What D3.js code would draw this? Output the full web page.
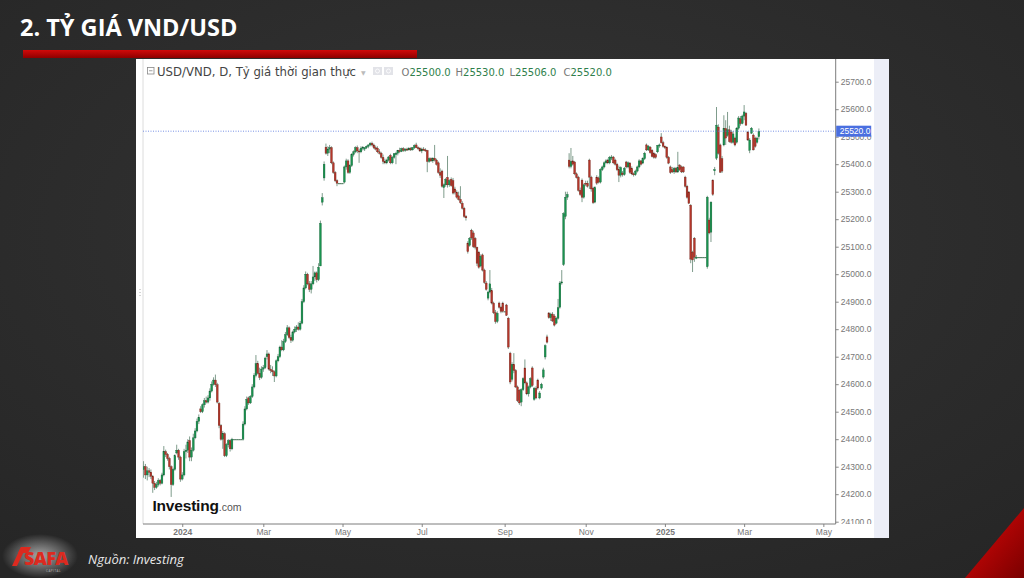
<!DOCTYPE html>
<html>
<head>
<meta charset="utf-8">
<script src="https://cdn.jsdelivr.net/npm/d3@7/dist/d3.min.js"></script>
<style>
  body { margin: 0; background: #2d2d2d; overflow: hidden; }
  svg { display: block; }
  .axis text { font-family: "Liberation Sans", Arial, sans-serif; font-size: 8.5px; fill: #777; }
  .axis line { stroke: #888; }
</style>
</head>
<body>
<svg id="chart" width="1024" height="578"></svg>
<script>
// daily candles [open, high, low, close], one row per weekday from 1 Dec 2023
const dec23 = [
  [24290,24320,24260,24300],[24300,24310,24255,24270],[24270,24300,24250,24285],[24285,24295,24262,24280],
  [24280,24290,24255,24265],[24265,24270,24205,24240],[24240,24248,24215,24225],[24225,24245,24220,24235],
  [24235,24258,24228,24250],[24250,24255,24232,24240],[24240,24278,24236,24270],[24270,24375,24265,24355],
  [24355,24362,24335,24345],[24345,24350,24322,24330],[24330,24336,24290,24300],[24300,24305,24190,24235],
  [24235,24296,24230,24290],[24290,24345,24285,24340],[24350,24380,24345,24360],[24360,24365,24325,24335],
  [24335,24340,24245,24255]
];
const jan24 = [
  [24255,24280,24250,24270],[24270,24365,24265,24355],[24355,24380,24330,24360],[24360,24400,24350,24390],
  [24395,24410,24320,24335],[24335,24370,24320,24360],[24360,24420,24355,24405],[24405,24440,24400,24430],
  [24430,24475,24425,24465],[24465,24490,24455,24480],[24510,24520,24495,24500],[24500,24530,24495,24525],
  [24525,24550,24515,24540],[24540,24555,24530,24535],[24535,24560,24530,24550],[24550,24585,24540,24575],
  [24575,24610,24570,24600],[24600,24625,24595,24615],[24615,24635,24590,24598],[24598,24605,24530,24535],
  [24530,24535,24440,24450],[24450,24455,24395,24400],[24400,24430,24365,24420]
];
const feb24 = [
  [24420,24425,24335,24340],[24340,24385,24335,24380],[24380,24400,24370,24395],[24395,24400,24355,24365],
  [24365,24405,24360,24400],[24400,24400,24400,24400],[24400,24400,24400,24400],[24400,24400,24400,24400],
  [24400,24400,24400,24400],[24400,24400,24400,24400],[24400,24465,24395,24455],[24455,24520,24450,24510],
  [24510,24555,24505,24545],[24550,24555,24525,24532],[24532,24560,24528,24555],[24555,24600,24550,24590],
  [24590,24640,24585,24632],[24632,24706,24625,24675],[24675,24685,24635,24640],[24640,24660,24615,24625],
  [24625,24665,24620,24655]
];
const mar24 = [
  [24655,24670,24645,24660],[24660,24700,24655,24695],[24700,24724,24690,24710],[24710,24715,24650,24655],
  [24655,24670,24640,24650],[24650,24665,24630,24645],[24645,24650,24608,24630],[24630,24690,24625,24685],
  [24685,24710,24680,24700],[24700,24740,24695,24735],[24735,24760,24720,24725],[24725,24765,24720,24755],
  [24755,24790,24750,24780],[24780,24815,24775,24805],[24805,24810,24765,24770],[24770,24780,24750,24760],
  [24760,24795,24755,24790],[24790,24810,24785,24800],[24800,24815,24790,24808],[24808,24825,24795,24800],
  [24800,24830,24795,24822]
];
const apr24 = [
  [24822,24910,24818,24900],[24900,24960,24895,24950],[24950,25010,24945,25000],[25000,25005,24960,24965],
  [24965,24975,24935,24945],[24945,24975,24930,24965],[24965,25030,24960,24990],[24990,25010,24975,25005],
  [25005,25010,24970,24980],[24980,25040,24975,25025],[25030,25195,25030,25185],[25262,25295,25250,25278],
  [25350,25410,25340,25400],[25462,25475,25435,25440],[25440,25465,25430,25455],[25455,25470,25440,25460],
  [25460,25465,25400,25405],[25405,25410,25365,25370],[25370,25375,25335,25340],[25340,25345,25320,25331],
  [25331,25331,25331,25331],[25331,25331,25331,25331]
];
const may24 = [
  [25331,25331,25331,25331],[25335,25395,25330,25390],[25390,25420,25380,25412],[25412,25418,25365,25370],
  [25370,25400,25365,25395],[25395,25440,25390,25435],[25435,25450,25428,25445],[25445,25465,25440,25460],
  [25460,25468,25440,25448],[25448,25455,25405,25445],[25445,25465,25440,25458],[25458,25466,25450,25462],
  [25455,25462,25448,25460],[25460,25468,25455,25465],[25465,25472,25458,25470],[25470,25480,25465,25476],
  [25476,25482,25465,25470],[25470,25475,25455,25460],[25460,25468,25450,25455],[25458,25465,25440,25445],
  [25445,25455,25435,25440],[25440,25445,25420,25425],[25425,25435,25400,25410]
];
const jun24 = [
  [25410,25420,25400,25405],[25405,25420,25400,25415],[25415,25430,25410,25426],[25432,25438,25400,25405],
  [25405,25430,25400,25425],[25425,25440,25420,25438],[25435,25445,25400,25440],[25440,25452,25432,25450],
  [25450,25460,25440,25446],[25446,25460,25444,25456],[25456,25462,25445,25450],[25450,25458,25445,25455],
  [25455,25460,25448,25452],[25452,25462,25450,25458],[25458,25462,25448,25452],[25452,25462,25450,25460],
  [25460,25472,25455,25468],[25470,25478,25458,25460],[25460,25465,25452,25458],[25458,25462,25445,25448]
];
const jul24 = [
  [25448,25460,25440,25455],[25455,25462,25448,25452],[25452,25458,25445,25450],[25450,25452,25371,25410],
  [25410,25425,25405,25420],[25420,25425,25408,25412],[25412,25425,25405,25422],[25422,25470,25410,25415],
  [25415,25420,25395,25400],[25405,25410,25365,25370],[25370,25385,25350,25360],[25375,25380,25315,25320],
  [25315,25330,25277,25325],[25325,25350,25318,25345],[25352,25430,25315,25325],[25325,25345,25318,25340],
  [25345,25352,25318,25322],[25340,25350,25290,25295],[25310,25318,25290,25298],[25298,25305,25275,25280],
  [25285,25300,25268,25272],[25272,25320,25255,25260],[25258,25265,25235,25240]
];
const aug24 = [
  [25240,25245,25205,25210],[25210,25215,25195,25205],[25113,25120,25075,25082],[25105,25135,25100,25130],
  [25160,25165,25125,25132],[25150,25158,25095,25100],[25130,25135,25090,25098],[25098,25100,25030,25040],
  [25080,25085,25020,25025],[25030,25072,25025,25065],[25070,25075,25010,25015],[25015,25020,24965,24970],
  [24968,24975,24940,24945],[24913,24940,24905,24935],[24935,25015,24930,24965],[24940,24950,24890,24895],
  [24895,24900,24855,24860],[24860,24870,24820,24828],[24828,24865,24822,24858],[24895,24900,24875,24880],
  [24880,24885,24858,24865],[24895,24900,24860,24865]
];
const sep24 = [
  [24865,24865,24865,24865],[24888,24892,24848,24851],[24840,24845,24728,24735],[24713,24718,24600,24608],
  [24618,24680,24610,24672],[24672,24713,24640,24650],[24650,24655,24586,24590],[24590,24595,24535,24540],
  [24578,24582,24525,24532],[24535,24585,24520,24580],[24580,24625,24575,24620],[24659,24690,24600,24605],
  [24605,24610,24560,24565],[24565,24595,24555,24590],[24590,24625,24585,24620],[24659,24665,24590,24595],
  [24545,24590,24540,24585],[24585,24592,24545,24550],[24615,24620,24580,24586],[24550,24575,24545,24568],
  [24586,24605,24580,24600]
];
const oct24 = [
  [24626,24660,24620,24652],[24699,24745,24690,24740],[24772,24780,24748,24753],[24859,24862,24838,24842],
  [24842,24860,24830,24855],[24855,24862,24826,24830],[24848,24855,24810,24815],[24822,24845,24818,24840],
  [24840,24910,24835,24878],[24880,24975,24875,24968],[24968,25015,24962,24972],[25035,25225,25030,25220],
  [25210,25300,25200,25280],[25280,25300,25270,25290],[25415,25440,25385,25392],[25392,25459,25385,25410],
  [25412,25430,25395,25400],[25408,25412,25360,25365],[25365,25370,25348,25352],[25353,25358,25300,25305],
  [25305,25315,25285,25290],[25342,25348,25262,25280],[25280,25330,25275,25325]
];
const nov24 = [
  [25331,25340,25320,25328],[25331,25340,25315,25320],[25415,25420,25310,25353],[25353,25358,25300,25310],
  [25313,25318,25255,25260],[25262,25320,25258,25315],[25353,25360,25325,25331],[25350,25355,25330,25335],
  [25335,25385,25330,25380],[25380,25395,25375,25390],[25390,25410,25385,25405],[25405,25418,25400,25412],
  [25415,25420,25400,25405],[25405,25430,25400,25425],[25425,25433,25415,25426],[25426,25430,25400,25405],
  [25415,25420,25395,25400],[25400,25405,25375,25380],[25380,25395,25335,25360],[25360,25392,25352,25388],
  [25368,25375,25355,25362]
];
const dec24 = [
  [25362,25390,25358,25385],[25408,25412,25385,25390],[25390,25410,25385,25405],[25404,25408,25365,25370],
  [25385,25392,25360,25365],[25365,25370,25355,25362],[25362,25380,25358,25375],[25375,25395,25370,25390],
  [25390,25418,25385,25412],[25412,25415,25395,25400],[25404,25425,25400,25420],[25420,25445,25415,25440],
  [25470,25475,25448,25452],[25452,25470,25448,25465],[25462,25466,25438,25442],[25451,25455,25425,25428],
  [25440,25445,25420,25425],[25435,25440,25420,25425],[25445,25470,25440,25468],[25468,25475,25460,25470],
  [25499,25513,25475,25478],[25478,25485,25460,25465]
];
const jan25 = [
  [25465,25468,25455,25460],[25462,25465,25420,25425],[25425,25430,25400,25404],[25390,25395,25365,25370],
  [25380,25390,25368,25372],[25372,25390,25365,25385],[25385,25390,25368,25372],[25372,25445,25368,25388],
  [25397,25400,25375,25380],[25390,25395,25368,25372],[25390,25392,25368,25372],[25353,25358,25315,25320],
  [25320,25325,25275,25280],[25299,25302,25255,25258],[25251,25255,25040,25055],[25080,25085,25008,25052],
  [25131,25135,25045,25062],[25062,25070,25055,25062],[25062,25062,25062,25062],[25062,25062,25062,25062],
  [25062,25062,25062,25062],[25062,25062,25062,25062],[25062,25062,25062,25062]
];
const feb25 = [
  [25027,25285,25020,25280],[25197,25205,25145,25150],[25153,25265,25117,25262],[25342,25345,25285,25290],
  [25376,25390,25360,25380],[25422,25608,25415,25542],[25535,25545,25435,25440],[25470,25475,25368,25371],
  [25420,25430,25368,25375],[25470,25578,25465,25530],[25530,25560,25470,25495],[25505,25590,25500,25525],
  [25525,25540,25478,25482],[25517,25525,25475,25480],[25480,25520,25475,25510],[25495,25500,25465,25470],
  [25480,25535,25475,25531],[25531,25575,25525,25568],[25565,25575,25540,25548],[25548,25580,25545,25575]
];
const mar25 = [
  [25575,25615,25560,25590],[25585,25590,25540,25542],[25517,25520,25485,25488],[25451,25495,25440,25488],
  [25513,25535,25510,25531],[25506,25512,25450,25452],[25495,25500,25460,25465],[25480,25500,25475,25495],
  [25500,25530,25490,25520]
];

const months = [dec23, jan24, feb24, mar24, apr24, may24, jun24, jul24, aug24, sep24, oct24, nov24, dec24, jan25, feb25, mar25];
const firstDay = '2023-12-01';
const lastAxisDay = '2025-06-01';

const xTickDates = ['2024-01-01', '2024-03-01', '2024-05-01', '2024-07-01', '2024-09-01', '2024-11-01', '2025-01-01', '2025-03-01', '2025-05-01'];
const xTickLabels = ['2024', 'Mar', 'May', 'Jul', 'Sep', 'Nov', '2025', 'Mar', 'May'];
const yTicks = d3.range(24100, 25701, 100);

const legendName = 'USD/VND, D, Tỷ giá thời gian thực';
const legendKeys = ['O', 'H', 'L', 'C'];
const legendValues = ['25500.0', '25530.0', '25506.0', '25520.0'];
const lastPrice = 25520;

const plot = { left: 143, right: 835.7, top: 59, bottom: 524 };

const parseDay = d3.timeParse('%Y-%m-%d');
const days = d3.timeDay.range(parseDay(firstDay), parseDay(lastAxisDay))
  .filter(d => d.getDay() % 6 !== 0);
const dayIndex = date => days.findIndex(d => d >= date);

const candles = months.flat().map((q, i) => ({ i, o: q[0], h: q[1], l: q[2], c: q[3] }));

const svg = d3.select('#chart');
const defs = svg.append('defs');

const bg = defs.append('radialGradient').attr('id', 'bg').attr('cx', '50%').attr('cy', '40%').attr('r', '75%');
bg.append('stop').attr('offset', '0%').attr('stop-color', '#353535');
bg.append('stop').attr('offset', '100%').attr('stop-color', '#262626');

const bar = defs.append('linearGradient').attr('id', 'bar').attr('x1', 0).attr('y1', 0).attr('x2', 0).attr('y2', 1);
bar.append('stop').attr('offset', '0%').attr('stop-color', '#d10a0a');
bar.append('stop').attr('offset', '100%').attr('stop-color', '#8e0000');

const corner = defs.append('linearGradient').attr('id', 'corner').attr('x1', 0).attr('y1', 0).attr('x2', 1).attr('y2', 1);
corner.append('stop').attr('offset', '0%').attr('stop-color', '#e00808');
corner.append('stop').attr('offset', '100%').attr('stop-color', '#7a0000');

const glow = defs.append('radialGradient').attr('id', 'glow');
glow.append('stop').attr('offset', '0%').attr('stop-color', '#fff').attr('stop-opacity', 0.6);
glow.append('stop').attr('offset', '100%').attr('stop-color', '#fff').attr('stop-opacity', 0);

defs.append('clipPath').attr('id', 'plotClip').append('rect')
  .attr('x', plot.left).attr('y', plot.top)
  .attr('width', plot.right - plot.left).attr('height', plot.bottom - plot.top);
defs.append('clipPath').attr('id', 'yClip').append('rect')
  .attr('x', plot.right - 1).attr('y', plot.top)
  .attr('width', 40).attr('height', plot.bottom - plot.top);

svg.append('rect').attr('width', 1024).attr('height', 578).attr('fill', 'url(#bg)');

// slide title
svg.append('text')
  .attr('x', 20).attr('y', 36)
  .attr('fill', '#fff')
  .style('font-family', '"Open Sans", sans-serif')
  .style('font-weight', 700)
  .style('font-size', '23.5px')
  .text('2. TỶ GIÁ VND/USD');

svg.append('rect').attr('x', 23).attr('y', 50).attr('width', 394).attr('height', 8).attr('fill', 'url(#bar)');

// chart panel
svg.append('rect').attr('x', 136).attr('y', 59).attr('width', 738).attr('height', 479).attr('fill', '#fff');
svg.append('rect').attr('x', 874).attr('y', 59).attr('width', 15).attr('height', 479).attr('fill', '#eceef7');

const x = d3.scaleLinear().domain([-0.3, 375.7]).range([plot.left, plot.right]);
const y = d3.scaleLinear().domain([24100, 25700]).range([521.7, 81.7]);

svg.append('line')
  .attr('x1', plot.left).attr('x2', plot.left).attr('y1', plot.top).attr('y2', plot.bottom)
  .attr('stroke', '#dcdcdc');
svg.append('line')
  .attr('x1', 140).attr('x2', 140).attr('y1', 289).attr('y2', 298)
  .attr('stroke', '#aaa').attr('stroke-dasharray', '1,2');

// axes
const xAxis = d3.axisBottom(x)
  .tickValues(xTickDates.map(s => dayIndex(parseDay(s))))
  .tickFormat((d, i) => xTickLabels[i])
  .tickSize(3)
  .tickPadding(2);

const gx = svg.append('g')
  .attr('class', 'axis x-axis')
  .attr('transform', `translate(0,${plot.bottom})`)
  .call(xAxis);
gx.select('.domain').remove();
gx.selectAll('text').style('font-weight', (d, i) => xTickLabels[i].length === 4 ? 700 : 400);

const yAxis = d3.axisRight(y)
  .tickValues(yTicks)
  .tickFormat(d3.format('.1f'))
  .tickSize(3)
  .tickPadding(2);

const gy = svg.append('g')
  .attr('class', 'axis y-axis')
  .attr('clip-path', 'url(#yClip)')
  .append('g')
  .attr('transform', `translate(${plot.right},0)`)
  .call(yAxis);
gy.select('.domain').remove();

svg.append('line')
  .attr('x1', plot.left).attr('x2', plot.right).attr('y1', plot.bottom).attr('y2', plot.bottom)
  .attr('stroke', '#7d7d7d');
svg.append('line')
  .attr('x1', plot.right).attr('x2', plot.right).attr('y1', plot.top).attr('y2', plot.bottom)
  .attr('stroke', '#7d7d7d');

// candles
const g = svg.append('g').attr('class', 'prices').attr('clip-path', 'url(#plotClip)');

const candle = g.selectAll('.candle')
  .data(candles)
  .enter()
  .append('g')
  .attr('class', 'candle');

candle.append('line')
  .attr('class', 'wick')
  .attr('x1', q => x(q.i))
  .attr('x2', q => x(q.i))
  .attr('y1', q => y(q.h))
  .attr('y2', q => y(q.l))
  .attr('stroke', '#7f9c8c')
  .attr('stroke-width', 1);

candle.append('rect')
  .attr('class', q => q.c < q.o ? 'down' : 'up')
  .attr('x', q => x(q.i) - 0.9)
  .attr('y', q => y(Math.max(q.o, q.c)))
  .attr('width', q => q.h === q.l ? 1.95 : 1.8)
  .attr('height', q => Math.max(1, Math.abs(y(q.c) - y(q.o))))
  .attr('fill', q => q.h === q.l ? '#3f6f51' : (q.c < q.o ? '#b5362a' : '#19934f'))
  .attr('stroke', q => q.h === q.l ? 'none' : (q.c < q.o ? '#6e2018' : '#145f36'))
  .attr('stroke-width', 0.35);

// last price line and label
svg.append('line')
  .attr('x1', plot.left).attr('x2', plot.right)
  .attr('y1', y(lastPrice)).attr('y2', y(lastPrice))
  .attr('stroke', '#5675de').attr('stroke-width', 0.8).attr('stroke-dasharray', '1,1.5');
svg.append('rect')
  .attr('x', plot.right + 0.5).attr('y', y(lastPrice) - 5.5)
  .attr('width', 35).attr('height', 11)
  .attr('fill', '#4a6fe0');
svg.append('text')
  .attr('x', plot.right + 4).attr('y', y(lastPrice) + 3)
  .attr('fill', '#fff')
  .style('font-family', '"Liberation Sans", Arial, sans-serif')
  .style('font-size', '8.5px')
  .text(d3.format('.1f')(lastPrice));

// legend row
const legend = svg.append('g').attr('class', 'legend')
  .style('font-family', '"DejaVu Sans", Verdana, sans-serif')
  .style('font-size', '10px');
legend.append('rect').attr('x', 147.5).attr('y', 67.5).attr('width', 6.5).attr('height', 6.5)
  .attr('fill', 'none').attr('stroke', '#888').attr('stroke-width', 0.8);
legend.append('line').attr('x1', 149).attr('x2', 152.5).attr('y1', 70.75).attr('y2', 70.75)
  .attr('stroke', '#888').attr('stroke-width', 0.8);
legend.append('text').attr('x', 157).attr('y', 76)
  .attr('fill', '#444')
  .style('font-size', '11.5px')
  .attr('textLength', 199)
  .attr('lengthAdjust', 'spacingAndGlyphs')
  .text(legendName);
legend.append('text').attr('x', 361).attr('y', 75).attr('fill', '#bbb').style('font-size', '6px').text('▼');
legend.selectAll('.icon')
  .data([373, 384])
  .enter()
  .append('rect')
  .attr('class', 'icon')
  .attr('x', d => d).attr('y', 67).attr('width', 9).attr('height', 8)
  .attr('fill', '#e2e3e8');
legend.selectAll('.icon-dot')
  .data([377.5, 388.5])
  .enter()
  .append('circle')
  .attr('class', 'icon-dot')
  .attr('cx', d => d).attr('cy', 71).attr('r', 2)
  .attr('fill', 'none').attr('stroke', '#fff').attr('stroke-width', 0.8);

const ohlc = legend.selectAll('.ohlc')
  .data(legendKeys)
  .enter()
  .append('text')
  .attr('class', 'ohlc')
  .attr('x', (k, i) => 401.5 + i * 54)
  .attr('y', 75.5);
ohlc.append('tspan').attr('fill', '#777').text(k => k);
ohlc.append('tspan').attr('fill', '#2f7f4c').text((k, i) => legendValues[i]);

// Investing.com logo
const logo = svg.append('text').attr('x', 152.5).attr('y', 511)
  .style('font-family', '"Liberation Sans", Arial, sans-serif');
logo.append('tspan').attr('fill', '#111').style('font-weight', 700).style('font-size', '15.5px')
  .style('letter-spacing', '-0.2px').text('Investing');
logo.append('tspan').attr('fill', '#555').style('font-size', '10.5px').text('.com');

// footer: SAFA logo and source
svg.append('ellipse').attr('cx', 40).attr('cy', 556).attr('rx', 38).attr('ry', 22).attr('fill', 'url(#glow)');
svg.append('polygon')
  .attr('points', '12,566 21,547 26,547 17,566')
  .attr('fill', '#dc2a1f');
svg.append('polygon')
  .attr('points', '21,547 31,547 28,553 18,553')
  .attr('fill', '#dc2a1f');
svg.append('text')
  .attr('x', 24).attr('y', 565)
  .attr('fill', '#dc2a1f')
  .style('font-family', '"Open Sans", sans-serif')
  .style('font-weight', 800)
  .style('font-size', '18px')
  .style('letter-spacing', '-0.6px')
  .text('SAFA');
svg.append('text')
  .attr('x', 46).attr('y', 571.5)
  .attr('fill', '#b9b9b9')
  .style('font-family', '"Open Sans", sans-serif')
  .style('font-size', '3px')
  .style('letter-spacing', '0.5px')
  .text('CAPITAL');

svg.append('text')
  .attr('x', 88).attr('y', 564)
  .attr('fill', '#e8e8e8')
  .style('font-family', '"Open Sans", sans-serif')
  .style('font-style', 'italic')
  .style('font-size', '13px')
  .text('Nguồn: Investing');

svg.append('polygon')
  .attr('points', '965,578 1024,508 1024,578')
  .attr('fill', 'url(#corner)');
</script>
</body>
</html>
